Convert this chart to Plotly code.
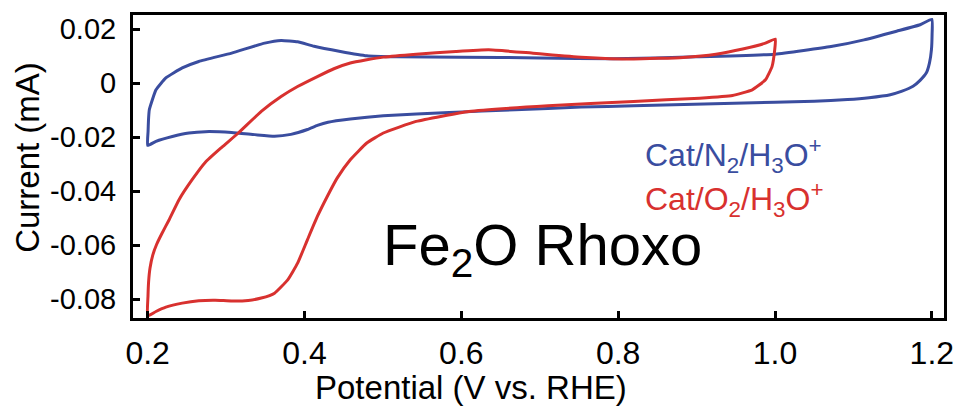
import plotly.graph_objects as go

# Cyclic voltammograms of the Fe2O rhoxo catalyst, potential (V vs. RHE) vs current (mA)
n2_potential = [
    0.2000, 0.2005, 0.2010, 0.2021, 0.2106, 0.2232, 0.2441, 0.2652, 0.3071, 0.3492,
    0.3702, 0.3912, 0.4122, 0.4458, 0.4794, 0.5170, 0.6000, 0.7000, 0.7940, 0.9000,
    1.0000, 1.0715, 1.1135, 1.1550, 1.1850, 1.2000,
    1.2003, 1.1995, 1.1970, 1.1930, 1.1850, 1.1760, 1.1620, 1.1470, 1.1200, 1.0925,
    1.0500, 1.0000, 0.8197, 0.7526, 0.6685, 0.5844, 0.5005, 0.4584, 0.4300, 0.4164,
    0.4038, 0.3827, 0.3618, 0.3366, 0.3071, 0.2736, 0.2526, 0.2315, 0.2106, 0.2000,
]
n2_current = [
    -0.0231, -0.0180, -0.0140, -0.0099, -0.0025, 0.0019, 0.0056, 0.0080, 0.0111, 0.0148,
    0.0158, 0.0153, 0.0136, 0.0117, 0.0101, 0.0097, 0.0096, 0.0093, 0.0090, 0.0097,
    0.0107, 0.0135, 0.0160, 0.0192, 0.0216, 0.0236,
    0.0180, 0.0124, 0.0075, 0.0038, 0.0010, -0.0012, -0.0030, -0.0043, -0.0054, -0.0061,
    -0.0067, -0.0071, -0.0084, -0.0089, -0.0099, -0.0109, -0.0121, -0.0133, -0.0145, -0.0157,
    -0.0172, -0.0190, -0.0197, -0.0191, -0.0183, -0.0180, -0.0185, -0.0198, -0.0216, -0.0231,
]

o2_potential = [
    0.2000, 0.2106, 0.2232, 0.2441, 0.2652, 0.2862, 0.3071, 0.3282, 0.3449, 0.3618,
    0.3786, 0.3912, 0.4038, 0.4164, 0.4290, 0.4416, 0.4584, 0.4794, 0.5005, 0.5424,
    0.6096, 0.7105, 0.8197, 0.9038, 0.9458, 0.9710, 0.9878, 0.9962, 0.9996, 1.0004,
    0.9878, 0.9588, 0.9247, 0.8828, 0.8197, 0.7526, 0.6895, 0.6348, 0.5929, 0.5424,
    0.5005, 0.4794, 0.4584, 0.4375, 0.4164, 0.3912, 0.3702, 0.3449, 0.3156, 0.2945,
    0.2736, 0.2567, 0.2400, 0.2274, 0.2180, 0.2115, 0.2065, 0.2030, 0.2012, 0.2004,
    0.2000,
]
o2_current = [
    -0.0862, -0.0846, -0.0830, -0.0815, -0.0806, -0.0804, -0.0807, -0.0805, -0.0796, -0.0778,
    -0.0729, -0.0667, -0.0580, -0.0494, -0.0420, -0.0352, -0.0284, -0.0222, -0.0185, -0.0142,
    -0.0105, -0.0084, -0.0068, -0.0056, -0.0046, -0.0025, 0.0012, 0.0061, 0.0123, 0.0163,
    0.0148, 0.0126, 0.0107, 0.0095, 0.0089, 0.0096, 0.0111, 0.0123, 0.0117, 0.0107,
    0.0096, 0.0086, 0.0074, 0.0053, 0.0024, -0.0013, -0.0050, -0.0105, -0.0185, -0.0238,
    -0.0293, -0.0358, -0.0432, -0.0506, -0.0558, -0.0597, -0.0637, -0.0685, -0.0735, -0.0790,
    -0.0862,
]

x_ticks = [0.2, 0.4, 0.6, 0.8, 1.0, 1.2]
x_tick_text = ["0.2", "0.4", "0.6", "0.8", "1.0", "1.2"]
y_ticks = [0.02, 0.0, -0.02, -0.04, -0.06, -0.08]
y_tick_text = ["0.02", "0", "-0.02", "-0.04", "-0.06", "-0.08"]

BLUE = "#3a4d9f"
RED = "#d8312f"
FONT = "Liberation Sans, Arial, sans-serif"

fig = go.Figure()
fig.add_trace(go.Scatter(x=n2_potential, y=n2_current, mode="lines",
                         line=dict(color=BLUE, width=3, shape="spline", smoothing=0.4),
                         showlegend=False, hoverinfo="skip"))
fig.add_trace(go.Scatter(x=o2_potential, y=o2_current, mode="lines",
                         line=dict(color=RED, width=3, shape="spline", smoothing=0.4),
                         showlegend=False, hoverinfo="skip"))

axis_common = dict(showgrid=False, zeroline=False, showline=True, linecolor="black",
                   linewidth=3, mirror=True, ticks="inside", ticklen=7, tickwidth=2.5,
                   tickcolor="black")

fig.update_xaxes(range=[0.1813, 1.2155], tickvals=x_ticks, ticktext=x_tick_text,
                 tickfont=dict(family=FONT, size=32, color="black"),
                 ticklabelstandoff=5, **axis_common)
fig.update_yaxes(range=[-0.0870, 0.0252], tickvals=y_ticks, ticktext=y_tick_text,
                 tickfont=dict(family=FONT, size=29, color="black"),
                 ticklabelstandoff=8, **axis_common)

# Axis titles (placed slightly off-centre, as in the original figure)
fig.add_annotation(x=0.4166, y=-0.230, xref="paper", yref="paper",
                   xanchor="center", yanchor="middle", showarrow=False,
                   text="Potential (V vs. RHE)",
                   font=dict(family=FONT, size=33, color="black"))
fig.add_annotation(x=-0.131, y=0.531, xref="paper", yref="paper",
                   xanchor="center", yanchor="middle", showarrow=False, textangle=-90,
                   text="Current (mA)",
                   font=dict(family=FONT, size=33, color="black"))

fig.add_annotation(x=0.8320, y=-0.0269, xref="x", yref="y", xanchor="left", yanchor="middle",
                   text="Cat/N<sub>2</sub>/H<sub>3</sub>O<sup>+</sup>", showarrow=False,
                   font=dict(family=FONT, size=32, color=BLUE))
fig.add_annotation(x=0.8320, y=-0.0432, xref="x", yref="y", xanchor="left", yanchor="middle",
                   text="Cat/O<sub>2</sub>/H<sub>3</sub>O<sup>+</sup>", showarrow=False,
                   font=dict(family=FONT, size=32, color=RED))
fig.add_annotation(x=0.498, y=-0.0615, xref="x", yref="y", xanchor="left", yanchor="middle",
                   text="Fe<sub>2</sub>O Rhoxo", showarrow=False,
                   font=dict(family=FONT, size=58, color="black"))

fig.update_layout(width=964, height=408, margin=dict(l=133, r=10, t=15, b=90),
                  paper_bgcolor="white", plot_bgcolor="white",
                  font=dict(family=FONT))

fig.write_html("out.html")
